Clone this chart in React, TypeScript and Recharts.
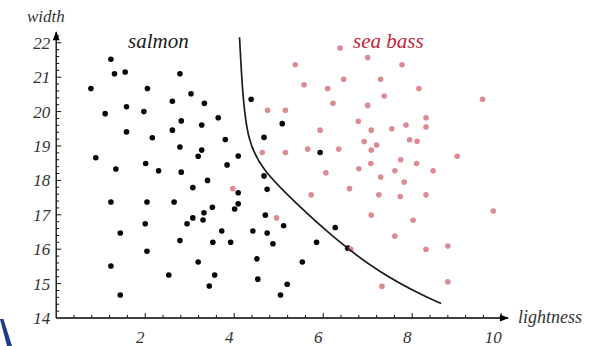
import { ReferenceDot, Scatter, ScatterChart, XAxis, YAxis } from "recharts";

// salmon (black) samples: lightness, width
const salmon = [
  { x: 1.23, y: 21.52 }, { x: 1.31, y: 21.1 }, { x: 1.55, y: 21.15 }, { x: 2.78, y: 21.1 },
  { x: 0.78, y: 20.67 }, { x: 2.05, y: 20.67 }, { x: 3.03, y: 20.52 }, { x: 2.61, y: 20.3 },
  { x: 3.33, y: 20.24 }, { x: 1.58, y: 20.14 }, { x: 1.1, y: 19.94 }, { x: 1.97, y: 20.0 },
  { x: 2.81, y: 19.73 }, { x: 3.27, y: 19.61 }, { x: 1.58, y: 19.41 }, { x: 2.16, y: 19.24 },
  { x: 2.61, y: 19.46 }, { x: 2.78, y: 18.97 }, { x: 3.27, y: 18.88 }, { x: 3.19, y: 18.7 },
  { x: 0.89, y: 18.66 }, { x: 1.34, y: 18.33 }, { x: 2.01, y: 18.49 }, { x: 2.3, y: 18.28 },
  { x: 2.81, y: 18.24 }, { x: 3.07, y: 17.79 }, { x: 1.23, y: 17.37 }, { x: 2.04, y: 17.37 },
  { x: 2.65, y: 17.37 }, { x: 3.32, y: 17.06 }, { x: 3.07, y: 16.91 }, { x: 3.3, y: 16.85 },
  { x: 2.94, y: 16.74 }, { x: 2.0, y: 16.74 }, { x: 1.44, y: 16.47 }, { x: 2.78, y: 16.25 },
  { x: 2.04, y: 15.94 }, { x: 3.19, y: 15.63 }, { x: 1.23, y: 15.51 }, { x: 2.53, y: 15.25 },
  { x: 1.44, y: 14.67 }, { x: 4.38, y: 20.36 }, { x: 3.64, y: 19.82 }, { x: 5.08, y: 19.65 },
  { x: 3.8, y: 19.19 }, { x: 4.67, y: 19.25 }, { x: 4.09, y: 18.71 }, { x: 5.93, y: 18.81 },
  { x: 3.84, y: 18.45 }, { x: 4.67, y: 18.13 }, { x: 3.4, y: 18.0 }, { x: 4.74, y: 17.74 },
  { x: 4.09, y: 17.64 }, { x: 4.09, y: 17.32 }, { x: 4.01, y: 17.17 }, { x: 3.51, y: 17.22 },
  { x: 4.7, y: 16.99 }, { x: 5.11, y: 16.68 }, { x: 3.72, y: 16.53 }, { x: 4.42, y: 16.53 },
  { x: 4.74, y: 16.47 }, { x: 6.27, y: 16.63 }, { x: 3.52, y: 16.2 }, { x: 3.92, y: 16.2 },
  { x: 4.87, y: 16.16 }, { x: 5.85, y: 16.2 }, { x: 6.55, y: 16.03 }, { x: 4.51, y: 15.72 },
  { x: 5.53, y: 15.63 }, { x: 3.56, y: 15.25 }, { x: 3.44, y: 14.93 }, { x: 4.53, y: 15.13 },
  { x: 5.19, y: 14.98 }, { x: 5.04, y: 14.67 },
];

// sea bass (pink) samples
const seaBass = [
  { x: 6.38, y: 21.85 }, { x: 5.37, y: 21.36 }, { x: 5.57, y: 20.78 }, { x: 6.1, y: 20.67 },
  { x: 6.46, y: 20.94 }, { x: 6.22, y: 20.24 }, { x: 4.75, y: 20.04 }, { x: 5.15, y: 20.04 },
  { x: 5.93, y: 19.46 }, { x: 4.63, y: 18.81 }, { x: 5.15, y: 18.81 }, { x: 5.65, y: 18.91 },
  { x: 6.35, y: 18.91 }, { x: 6.06, y: 18.22 }, { x: 7.0, y: 21.57 }, { x: 7.77, y: 21.36 },
  { x: 7.29, y: 20.94 }, { x: 8.15, y: 20.67 }, { x: 7.37, y: 20.45 }, { x: 9.58, y: 20.36 },
  { x: 7.0, y: 20.18 }, { x: 6.79, y: 19.72 }, { x: 8.31, y: 19.82 }, { x: 7.08, y: 19.46 },
  { x: 7.54, y: 19.5 }, { x: 7.86, y: 19.61 }, { x: 8.31, y: 19.55 }, { x: 6.92, y: 19.13 },
  { x: 7.2, y: 19.03 }, { x: 7.94, y: 19.18 }, { x: 8.11, y: 19.14 }, { x: 7.08, y: 18.88 },
  { x: 9.01, y: 18.7 }, { x: 7.74, y: 18.6 }, { x: 8.1, y: 18.49 }, { x: 6.8, y: 18.34 },
  { x: 7.07, y: 18.49 }, { x: 7.61, y: 18.28 }, { x: 8.47, y: 18.28 }, { x: 7.29, y: 18.1 },
  { x: 7.82, y: 17.95 }, { x: 7.25, y: 17.58 }, { x: 7.73, y: 17.53 }, { x: 8.31, y: 17.58 },
  { x: 9.82, y: 17.11 }, { x: 7.08, y: 16.99 }, { x: 8.02, y: 16.84 }, { x: 7.61, y: 16.38 },
  { x: 8.31, y: 16.0 }, { x: 8.8, y: 16.09 }, { x: 7.32, y: 14.92 }, { x: 8.8, y: 15.05 },
  { x: 6.59, y: 17.76 }, { x: 3.97, y: 17.76 }, { x: 5.73, y: 17.58 }, { x: 4.95, y: 16.91 },
  { x: 6.62, y: 16.0 },
];

// decision boundary
const boundary = [
  { x: 4.12, y: 22.16 }, { x: 4.19, y: 20.63 }, { x: 4.33, y: 19.27 }, { x: 4.69, y: 18.3 },
  { x: 5.4, y: 17.33 }, { x: 6.27, y: 16.32 }, { x: 7.28, y: 15.35 }, { x: 8.21, y: 14.68 },
  { x: 8.65, y: 14.42 },
];

const xMajor = [2, 4, 6, 8, 10];
const yMajor = [14, 15, 16, 17, 18, 19, 20, 21, 22];
const xTicks = Array.from({ length: 25 }, (_, i) => +((i + 1) * 0.4).toFixed(2));
const yTicks = Array.from({ length: 42 }, (_, i) => +(14 + i * 0.2).toFixed(2));

const serif = "'Liberation Serif', 'DejaVu Serif', serif";

function XTick({ x, y, payload }: any) {
  const v = payload.value;
  const major = xMajor.includes(v);
  return (
    <g>
      <line x1={x} x2={x} y1={y} y2={y - (major ? 5 : 3)} stroke="#111" strokeWidth={1} />
      {major && (
        <text x={x - (v >= 10 ? 8 : 5)} y={y + 25} textAnchor="middle" fontFamily={serif} fontStyle="italic" fontSize={17} fill="#333">
          {v}
        </text>
      )}
    </g>
  );
}

function YTick({ x, y, payload }: any) {
  const v = payload.value;
  const major = yMajor.includes(v);
  return (
    <g>
      {v !== 14 && <line x1={x} x2={x + (major ? 5 : 3)} y1={y} y2={y} stroke="#111" strokeWidth={1} />}
      {major && (
        <text x={x - 6} y={y + 6} textAnchor="end" fontFamily={serif} fontStyle="italic" fontSize={17} fill="#333">
          {v}
        </text>
      )}
    </g>
  );
}

const dot = (color: string) => (p: any) => <circle cx={p.cx} cy={p.cy} r={2.8} fill={color} />;

export default function App() {
  return (
    <div style={{ position: "absolute", left: 0, top: 0, width: 592, height: 346, background: "#fff" }}>
      <ScatterChart width={592} height={346} margin={{ top: 32.3, right: 84.1, bottom: 0, left: 0 }}>
        <XAxis
          type="number"
          dataKey="x"
          domain={[0, 10.15]}
          allowDataOverflow
          ticks={xTicks}
          interval={0}
          tick={<XTick />}
          tickSize={0}
          tickMargin={0}
          tickLine={false}
          height={28}
          axisLine={{ stroke: "#000", strokeWidth: 1.3 }}
        />
        <YAxis
          type="number"
          dataKey="y"
          domain={[14, 22.305]}
          allowDataOverflow
          ticks={yTicks}
          interval={0}
          tick={<YTick />}
          tickSize={0}
          tickMargin={0}
          tickLine={false}
          width={56.2}
          axisLine={{ stroke: "#000", strokeWidth: 1.3 }}
        />
        <Scatter data={salmon} shape={dot("#050505")} isAnimationActive={false} />
        <Scatter data={seaBass} shape={dot("#de8a93")} isAnimationActive={false} />
        <Scatter
          data={boundary}
          line={{ stroke: "#1c1c1c", strokeWidth: 1.7 }}
          lineJointType="natural"
          shape={() => <g />}
          isAnimationActive={false}
        />
        <ReferenceDot
          x={10.15}
          y={14}
          ifOverflow="visible"
          shape={(p: any) => <path d={`M${p.cx + 1},${p.cy} L${p.cx - 8},${p.cy - 3.5} L${p.cx - 8},${p.cy + 3.5} Z`} fill="#000" />}
        />
        <ReferenceDot
          x={0}
          y={22.305}
          ifOverflow="visible"
          shape={(p: any) => <path d={`M${p.cx},${p.cy - 1} L${p.cx - 3.5},${p.cy + 8} L${p.cx + 3.5},${p.cy + 8} Z`} fill="#000" />}
        />
      </ScatterChart>
      <svg width={592} height={346} style={{ position: "absolute", left: 0, top: 0, pointerEvents: "none" }}>
        <text x={27} y={21.5} fontFamily={serif} fontStyle="italic" fontSize={17} fill="#333">width</text>
        <text x={518} y={323} fontFamily={serif} fontStyle="italic" fontSize={18} fill="#333">lightness</text>
        <text x={128} y={48} fontFamily={serif} fontStyle="italic" fontSize={21} fill="#1a1a1a">salmon</text>
        <text x={353} y={48} fontFamily={serif} fontStyle="italic" fontSize={21} fill="#c21f3a">sea bass</text>
        <polygon points="0,319 3.5,319 12,346 7,346" fill="#1d3c8c" />
      </svg>
    </div>
  );
}
